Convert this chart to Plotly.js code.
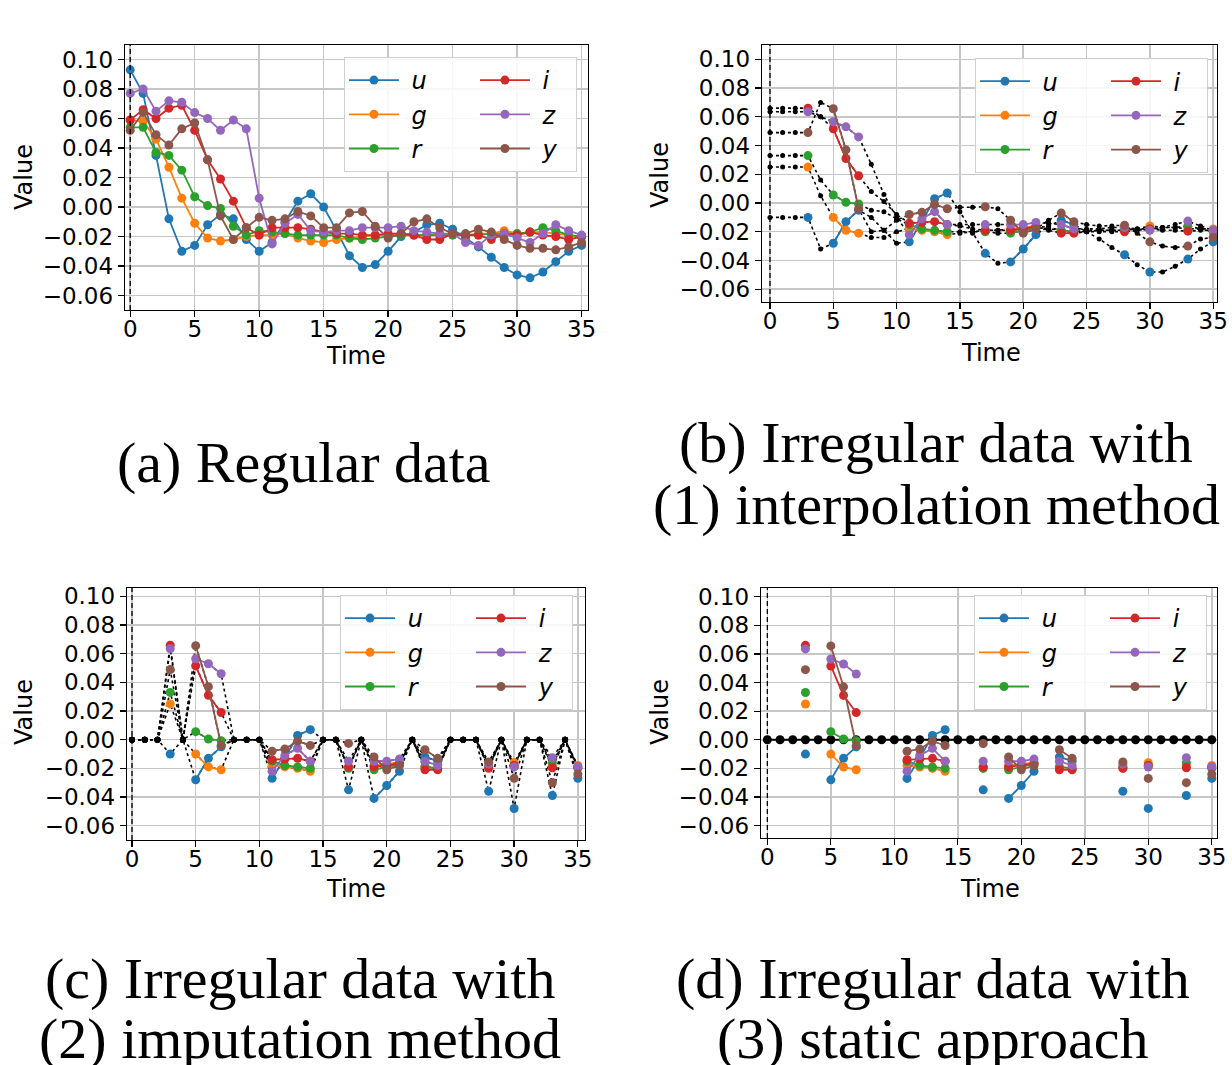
<!DOCTYPE html>
<html><head><meta charset="utf-8">
<script src="https://cdn.plot.ly/plotly-3.0.1.min.js"></script>
<style>html,body{margin:0;padding:0;background:#fff}</style>
</head><body><div id="chart" style="width:1232px;height:1065px"></div>
<script>
// ---------- data ----------
const times = [0,1,2,3,4,5,6,7,8,9,10,11,12,13,14,15,16,17,18,19,20,21,22,23,24,25,26,27,28,29,30,31,32,33,34,35];
const xTicks = [0,5,10,15,20,25,30,35];
const yTicks = [-0.06,-0.04,-0.02,0.00,0.02,0.04,0.06,0.08,0.10];
const bands = ['u','g','r','i','z','y'];
const bandColors = ['#1f77b4','#ff7f0e','#2ca02c','#d62728','#9467bd','#8c564b'];

// (a) regular data
const uReg = [0.093,0.077,0.035,-0.008,-0.030,-0.026,-0.012,-0.005,-0.008,-0.022,-0.030,-0.024,-0.010,0.004,0.009,0.000,-0.016,-0.033,-0.041,-0.039,-0.030,-0.020,-0.017,-0.012,-0.011,-0.015,-0.021,-0.027,-0.034,-0.041,-0.046,-0.048,-0.044,-0.037,-0.030,-0.026];
const gReg = [0.059,0.058,0.046,0.027,0.006,-0.011,-0.021,-0.023,-0.022,-0.020,-0.019,-0.019,-0.018,-0.021,-0.023,-0.024,-0.022,-0.021,-0.020,-0.019,-0.019,-0.018,-0.019,-0.019,-0.018,-0.019,-0.019,-0.018,-0.018,-0.016,-0.018,-0.017,-0.017,-0.018,-0.019,-0.020];
const rReg = [0.054,0.054,0.037,0.035,0.025,0.007,0.001,-0.001,-0.013,-0.019,-0.016,-0.017,-0.018,-0.019,-0.019,-0.019,-0.019,-0.021,-0.022,-0.021,-0.020,-0.019,-0.019,-0.019,-0.019,-0.019,-0.019,-0.019,-0.018,-0.018,-0.018,-0.017,-0.014,-0.016,-0.019,-0.020];
const iReg = [0.059,0.066,0.060,0.067,0.069,0.052,0.032,0.019,0.004,-0.014,-0.019,-0.014,-0.014,-0.014,-0.015,-0.017,-0.018,-0.018,-0.019,-0.019,-0.018,-0.018,-0.019,-0.022,-0.022,-0.018,-0.019,-0.019,-0.022,-0.018,-0.019,-0.017,-0.019,-0.020,-0.022,-0.020];
const zReg = [0.077,0.080,0.065,0.072,0.071,0.064,0.060,0.052,0.059,0.053,0.006,-0.025,-0.011,-0.005,-0.016,-0.017,-0.016,-0.016,-0.014,-0.014,-0.014,-0.013,-0.016,-0.017,-0.018,-0.018,-0.024,-0.026,-0.019,-0.018,-0.021,-0.024,-0.018,-0.012,-0.016,-0.019];
const yReg = [0.052,0.064,0.049,0.042,0.053,0.057,0.032,-0.006,-0.022,-0.014,-0.007,-0.009,-0.008,-0.003,-0.006,-0.014,-0.014,-0.004,-0.003,-0.013,-0.021,-0.018,-0.010,-0.008,-0.014,-0.018,-0.018,-0.015,-0.017,-0.022,-0.026,-0.028,-0.028,-0.029,-0.027,-0.024];

// irregular data: observed time steps and values
const obsTimes = [3,5,6,7,11,12,13,14,17,19,20,21,23,24,28,30,33,35];
const uObs = [-0.010,-0.028,-0.013,-0.005,-0.027,-0.013,0.003,0.007,-0.035,-0.041,-0.032,-0.022,-0.012,-0.015,-0.036,-0.048,-0.039,-0.027];
const gObs = [0.025,-0.010,-0.019,-0.021,-0.018,-0.019,-0.020,-0.022,-0.019,-0.018,-0.017,-0.016,-0.019,-0.020,-0.019,-0.016,-0.018,-0.018];
const rObs = [0.033,0.0056,0.0005,-0.0007,-0.015,-0.018,-0.019,-0.020,-0.020,-0.021,-0.019,-0.017,-0.019,-0.020,-0.019,-0.018,-0.016,-0.020];
const iObs = [0.066,0.0516,0.031,0.019,-0.014,-0.0135,-0.013,-0.015,-0.019,-0.019,-0.018,-0.0165,-0.021,-0.021,-0.020,-0.018,-0.0196,-0.019];
const zObs = [0.0635,0.0565,0.053,0.046,-0.022,-0.011,-0.006,-0.015,-0.015,-0.015,-0.015,-0.0135,-0.015,-0.018,-0.017,-0.019,-0.0126,-0.019];
const yObs = [0.049,0.0656,0.037,-0.004,-0.008,-0.0065,-0.001,-0.004,-0.0026,-0.012,-0.021,-0.018,-0.007,-0.013,-0.0155,-0.027,-0.030,-0.024];

// (b) values read at the missing time steps (interpolation curves)
const missTimes = [0,1,2,4,8,9,10,15,16,18,22,25,26,27,29,31,32,34];
const uInt = [-0.010,-0.010,-0.010,-0.032,-0.010,-0.019,-0.028,-0.006,-0.021,-0.042,-0.016,-0.020,-0.025,-0.031,-0.043,-0.048,-0.044,-0.032];
const gInt = [0.025,0.025,0.025,0.005,-0.024,-0.024,-0.020,-0.021,-0.020,-0.019,-0.017,-0.019,-0.019,-0.019,-0.018,-0.017,-0.017,-0.018];
const rInt = [0.033,0.033,0.033,0.016,-0.005,-0.006,-0.011,-0.020,-0.020,-0.021,-0.018,-0.020,-0.019,-0.019,-0.018,-0.017,-0.017,-0.018];
const iInt = [0.066,0.066,0.066,0.060,0.008,0.001,-0.008,-0.016,-0.018,-0.019,-0.019,-0.020,-0.020,-0.020,-0.019,-0.019,-0.019,-0.019];
const zInt = [0.0635,0.0635,0.0635,0.060,0.027,0.006,-0.010,-0.015,-0.015,-0.015,-0.014,-0.018,-0.018,-0.017,-0.018,-0.017,-0.015,-0.016];
const yInt = [0.049,0.049,0.049,0.070,-0.020,-0.019,-0.012,-0.003,-0.003,-0.004,-0.012,-0.015,-0.016,-0.016,-0.021,-0.030,-0.031,-0.025];

// (c) imputation value, (d) static value
const imputeValue = 0;
const staticValue = 0;

const captions = [
  ['(a) Regular data'],
  ['(b) Irregular data with', '(1) interpolation method'],
  ['(c) Irregular data with', '(2) imputation method'],
  ['(d) Irregular data with', '(3) static approach']
];

// ---------- build ----------
const regs = [uReg,gReg,rReg,iReg,zReg,yReg];
const obs = [uObs,gObs,rObs,iObs,zObs,yObs];
const ints = [uInt,gInt,rInt,iInt,zInt,yInt];

function observedSeries(k){ return times.map(t => { const j = obsTimes.indexOf(t); return j>=0 ? obs[k][j] : null; }); }
function interpSeries(k){ return times.map(t => { const j = obsTimes.indexOf(t); return j>=0 ? obs[k][j] : ints[k][missTimes.indexOf(t)]; }); }
function imputedSeries(k){ return times.map(t => { const j = obsTimes.indexOf(t); return j>=0 ? obs[k][j] : imputeValue; }); }

const panels = [
  {s:'',  xd:[0.1015,0.4773], yd:[0.7089,0.9577], xr:[-0.4,35.5],  yr:[-0.0698,0.1098], lx:0.4683, ly:0.9465,
   tx:356, ty:356, vx:24, vy:177, cap:[[304,462]]},
  {s:'2', xd:[0.6185,0.9878], yd:[0.7164,0.9577], xr:[-0.63,35.3], yr:[-0.0689,0.1099], lx:0.9805, ly:0.9455,
   tx:991, ty:353, vx:660, vy:175, cap:[[936,443],[936,505]]},
  {s:'3', xd:[0.1031,0.4748], yd:[0.2113,0.4479], xr:[-0.39,35.56], yr:[-0.070,0.1059], lx:0.4651, ly:0.4413,
   tx:356, ty:889, vx:24, vy:712, cap:[[300,978],[300,1038]]},
  {s:'4', xd:[0.6177,0.9878], yd:[0.2131,0.4479], xr:[-0.5,35.41], yr:[-0.0687,0.1061], lx:0.9797, ly:0.4413,
   tx:990, ty:889, vx:660, vy:712, cap:[[933,978],[933,1038]]}
];

const W = 1232, H = 1065;
const traces = [];
const layout = {
  width: W, height: H, margin:{l:0,r:0,t:0,b:0},
  paper_bgcolor:'#ffffff', plot_bgcolor:'#ffffff',
  showlegend:true, annotations:[], shapes:[]
};
const tickFont = {family:'DejaVu Sans', size:23, color:'#000'};
const legName = (b) => '\u00a0<i>' + b + '</i>';

panels.forEach((p, pi) => {
  const xa = 'x' + p.s, ya = 'y' + p.s;
  const legKey = 'legend' + p.s;
  layout['xaxis' + p.s] = {
    domain:p.xd, range:p.xr, anchor:ya, tickvals:xTicks, ticks:'outside', ticklen:6, tickwidth:1.3,
    tickcolor:'#000', showline:true, linecolor:'#000', linewidth:1.3, mirror:true, showgrid:true,
    gridcolor:'#c6c6c6', gridwidth:1.5, zeroline:false, tickfont:tickFont, ticklabelstandoff:-8
  };
  layout['yaxis' + p.s] = {
    domain:p.yd, range:p.yr, anchor:xa, tickvals:yTicks, tickformat:'.2f', ticks:'outside', ticklen:6, tickwidth:1.3,
    tickcolor:'#000', showline:true, linecolor:'#000', linewidth:1.3, mirror:true, showgrid:true,
    gridcolor:'#c6c6c6', gridwidth:1.5, zeroline:false, tickfont:tickFont
  };
  layout[legKey] = {
    x:p.lx, y:p.ly, xanchor:'right', yanchor:'top', orientation:'h', traceorder:'grouped',
    itemwidth:50, entrywidthmode:'pixels', bgcolor:'rgba(255,255,255,0.85)', bordercolor:'#d0d0d0', borderwidth:1,
    font:{family:'DejaVu Sans', size:24, color:'#000'}, tracegroupgap:0
  };
  layout.shapes.push({type:'line', xref:xa, yref:ya + ' domain', x0:0, x1:0, y0:0, y1:1,
    line:{color:'#000', width:1.3, dash:'5px,3px'}, layer:'above'});
  // axis titles
  layout.annotations.push({xref:'paper', yref:'paper', x:p.tx/W, y:1-p.ty/H, text:'Time', showarrow:false,
    xanchor:'center', yanchor:'middle', font:{family:'DejaVu Sans', size:24, color:'#000'}});
  layout.annotations.push({xref:'paper', yref:'paper', x:p.vx/W, y:1-p.vy/H, text:'Value', showarrow:false, textangle:-90,
    xanchor:'center', yanchor:'middle', font:{family:'DejaVu Sans', size:24, color:'#000'}});
  captions[pi].forEach((line, li) => {
    layout.annotations.push({xref:'paper', yref:'paper', x:p.cap[li][0]/W, y:1-p.cap[li][1]/H, text:line, showarrow:false,
      xanchor:'center', yanchor:'middle', font:{family:'Liberation Serif', size:58, color:'#000'}});
  });

  // black background traces
  if (pi === 1 || pi === 2) {
    bands.forEach((b, k) => {
      traces.push({x:times, y: pi===1 ? interpSeries(k) : imputedSeries(k), xaxis:xa, yaxis:ya, mode:'lines+markers',
        line:{color:'#000', width:1.6, dash:'dot'}, marker:{color:'#000', size: pi===1 ? 5 : 6},
        showlegend:false, hoverinfo:'skip'});
    });
  }
  if (pi === 3) {
    traces.push({x:times, y:times.map(() => staticValue), xaxis:xa, yaxis:ya, mode:'lines+markers',
      line:{color:'#000', width:2}, marker:{color:'#000', size:9}, showlegend:false, hoverinfo:'skip'});
  }
  // coloured series
  bands.forEach((b, k) => {
    traces.push({x:times, y: pi===0 ? regs[k] : observedSeries(k), xaxis:xa, yaxis:ya, mode:'lines+markers',
      name:legName(b), legend:legKey, legendgroup:'p'+pi+(k<3?'a':'b'), legendwidth: k<3 ? 66 : 36, connectgaps:false,
      line:{color:bandColors[k], width:1.8}, marker:{color:bandColors[k], size:9}, hoverinfo:'skip'});
  });
});

Plotly.newPlot('chart', traces, layout, {displayModeBar:false, staticPlot:true});
</script></body></html>
